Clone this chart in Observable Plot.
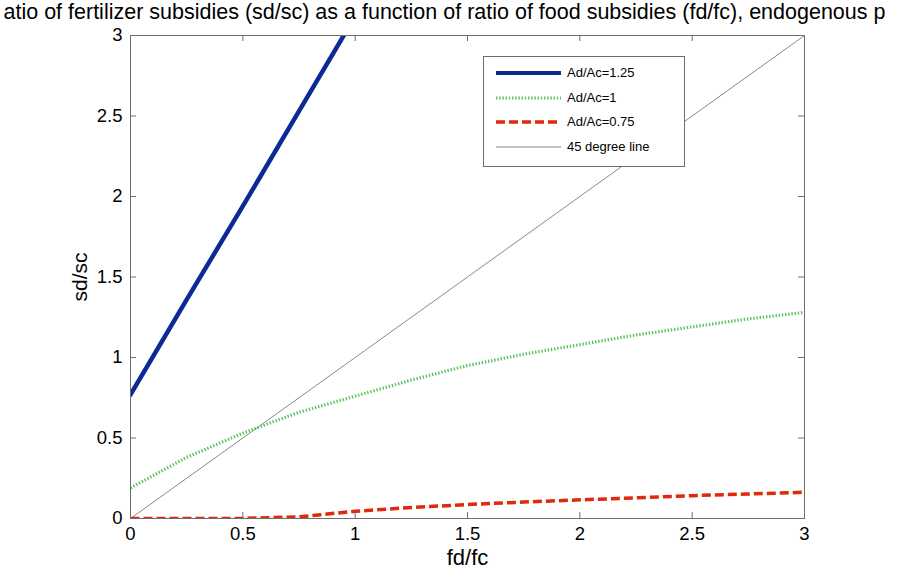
<!DOCTYPE html>
<html><head><meta charset="utf-8">
<script src="https://cdn.jsdelivr.net/npm/d3@7"></script>
<script src="https://cdn.jsdelivr.net/npm/@observablehq/plot@0.6"></script>
<style>
body{margin:0;background:#fff;font-family:"Liberation Sans",Arial,sans-serif;}
#wrap{position:relative;width:908px;height:571px;overflow:hidden;background:#fff}
#legend{position:absolute;left:483px;top:56px;width:200px;height:109px;border:1px solid #6e6e6e;background:#fff;}
.row{position:absolute;left:0;height:20px;width:200px;}
.row svg{position:absolute;left:11px;top:0;}
.row span{position:absolute;left:83px;top:2px;font-size:13px;color:#000;white-space:nowrap;}
</style>
</head><body>
<div id="wrap"></div>
<script>
// ---- data ----
const titleText = "atio of fertilizer subsidies (sd/sc) as a function of ratio of food subsidies (fd/fc), endogenous p";
const xLabel = "fd/fc";
const yLabel = "sd/sc";
const xTicks = [0, 0.5, 1, 1.5, 2, 2.5, 3];
const yTicks = [0, 0.5, 1, 1.5, 2, 2.5, 3];

const blueX = [0, 0.25, 0.5, 0.75, 1.0];
const blueY = [0.77, 1.36, 1.94, 2.53, 3.12];

const fdGrid = [0, 0.25, 0.5, 0.75, 1, 1.25, 1.5, 1.75, 2, 2.25, 2.5, 2.75, 3];
const greenY = [0.19, 0.38, 0.53, 0.66, 0.76, 0.86, 0.95, 1.02, 1.08, 1.14, 1.19, 1.24, 1.28];
const redY   = [0, 0, 0, 0.01, 0.045, 0.068, 0.087, 0.102, 0.116, 0.128, 0.142, 0.152, 0.163];

const diagX = [0, 3];
const diagY = [0, 3];

const seriesNames = ["Ad/Ac=1.25", "Ad/Ac=1", "Ad/Ac=0.75", "45 degree line"];

// ---- build tables ----
const blue = blueX.map((x, i) => ({x, y: blueY[i]}));
const green = fdGrid.map((x, i) => ({x, y: greenY[i]}));
const red = fdGrid.map((x, i) => ({x, y: redY[i]}));
const diag = diagX.map((x, i) => ({x, y: diagY[i]}));

const W = 908, H = 571, mt = 35, mr = 104, mb = 53, ml = 130;
const fw = W - ml - mr, fh = H - mt - mb, tl = 6;
const axisColor = "#6e6e6e";
const cBlue = "#0c2a96", cGreen = "#5cc25c", cRed = "#e0280a", cGray = "#8a8a8a";

const chart = Plot.plot({
  width: W, height: H,
  marginTop: mt, marginRight: mr, marginBottom: mb, marginLeft: ml,
  style: {fontFamily: "'Liberation Sans', Arial, sans-serif", background: "#fff", overflow: "visible"},
  x: {domain: [0, 3]},
  y: {domain: [0, 3]},
  marks: [
    Plot.line(diag, {x: "x", y: "y", stroke: cGray, strokeWidth: 1}),
    Plot.line(red, {x: "x", y: "y", stroke: cRed, strokeWidth: 3.5, strokeDasharray: "9,4", strokeLinecap: "butt", clip: true}),
    Plot.line(green, {x: "x", y: "y", stroke: cGreen, strokeWidth: 3.2, strokeDasharray: "1.4,1.8", strokeLinecap: "butt", clip: true}),
    Plot.line(blue, {x: "x", y: "y", stroke: cBlue, strokeWidth: 4.5, clip: true}),
    Plot.frame({stroke: axisColor, strokeWidth: 1}),
    Plot.ruleX(xTicks, {stroke: axisColor, insetTop: fh - tl}),
    Plot.ruleX(xTicks, {stroke: axisColor, insetBottom: fh - tl}),
    Plot.ruleY(yTicks, {stroke: axisColor, insetRight: fw - tl}),
    Plot.ruleY(yTicks, {stroke: axisColor, insetLeft: fw - tl}),
    Plot.axisX({ticks: xTicks, tickSize: 0, tickPadding: 8, fontSize: 18.5, tickFormat: d => String(d), label: null, color: "#000"}),
    Plot.axisY({ticks: yTicks, tickSize: 0, tickPadding: 8, fontSize: 18.5, tickFormat: d => String(d), label: null, color: "#000"}),
    Plot.text([xLabel], {frameAnchor: "bottom", textAnchor: "middle", lineAnchor: "bottom", dy: 46, fontSize: 22, fill: "#000"}),
    Plot.text([yLabel], {frameAnchor: "left", textAnchor: "middle", lineAnchor: "middle", dx: -50, rotate: -90, fontSize: 21, fill: "#000"}),
    Plot.text([titleText], {frameAnchor: "top-left", textAnchor: "start", lineAnchor: "top", dx: -127, dy: -32, fontSize: 21.5, fill: "#000"})
  ]
});

const wrap = document.getElementById("wrap");
wrap.appendChild(chart);

// ---- legend ----
const legend = document.createElement("div");
legend.id = "legend";
const styles = [
  {stroke: cBlue, w: 4, dash: null},
  {stroke: cGreen, w: 3, dash: "1.4,1.8"},
  {stroke: cRed, w: 3.5, dash: "9,4"},
  {stroke: cGray, w: 1, dash: null}
];
const rowTops = [6, 31, 55, 80];
seriesNames.forEach((name, i) => {
  const r = document.createElement("div");
  r.className = "row";
  r.style.top = rowTops[i] + "px";
  const s = styles[i];
  r.innerHTML = `<svg width="68" height="20"><line x1="1" x2="66" y1="10" y2="10" stroke="${s.stroke}" stroke-width="${s.w}" ${s.dash ? `stroke-dasharray="${s.dash}"` : ""}/></svg><span>${name}</span>`;
  legend.appendChild(r);
});
wrap.appendChild(legend);
</script>
</body></html>
